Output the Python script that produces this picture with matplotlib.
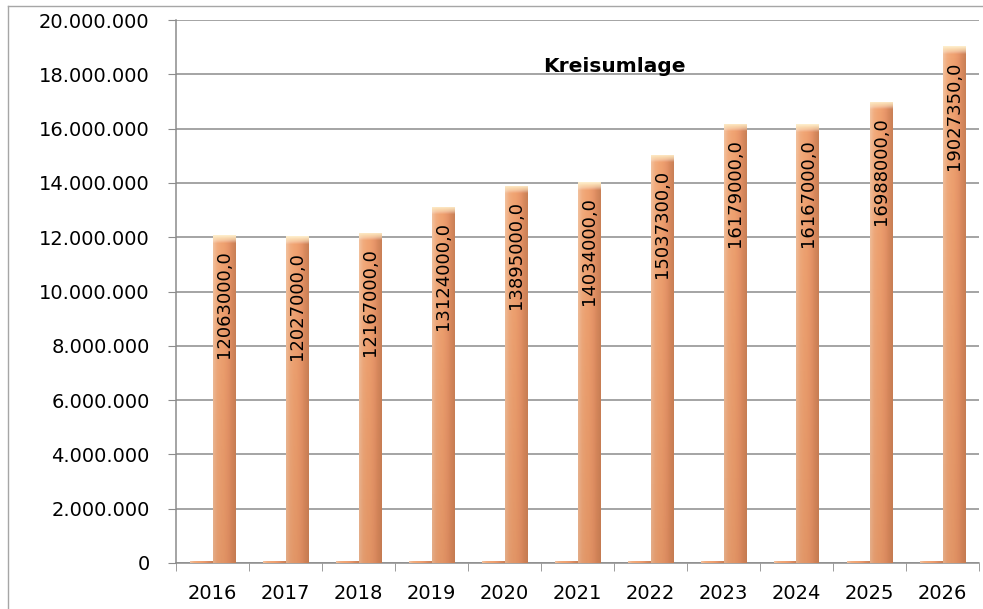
import numpy as np
import matplotlib.pyplot as plt
from matplotlib.lines import Line2D
from matplotlib.colors import LinearSegmentedColormap

years = ['2016', '2017', '2018', '2019', '2020', '2021', '2022', '2023', '2024', '2025', '2026']
umlage = [12063000, 12027000, 12167000, 13124000, 13895000, 14034000,
          15037300, 16179000, 16167000, 16988000, 19027350]
# second (almost invisible) series next to each bar
stub = [90000, 90000, 90000, 90000, 90000, 90000, 90000, 90000, 90000, 90000, 90000]
yticks = [0, 2000000, 4000000, 6000000, 8000000, 10000000, 12000000,
          14000000, 16000000, 18000000, 20000000]

plt.rcParams['font.family'] = ['DejaVu Sans']

fig = plt.figure(figsize=(9.83, 6.09), dpi=100)
ax = fig.add_axes([176/983, 46/609, 803/983, 543/609])

# horizontal shading of a cylinder-like bar: light left edge, darker right side
shade = LinearSegmentedColormap.from_list(
    'shade', ['#f3c3a0', '#f2ad80', '#f1a675', '#efa170', '#e8966a', '#d98a5e', '#c98057'])
grad = np.linspace(0, 1, 64).reshape(1, -1)
# slight darkening towards the bottom
dark = LinearSegmentedColormap.from_list(
    'dark', [(0.72, 0.42, 0.26, 0.25), (0.72, 0.42, 0.26, 0.0)])
darkgrad = np.linspace(0, 1, 64).reshape(-1, 1)
cap = LinearSegmentedColormap.from_list(
    'cap', [(1, 1, 1, 0), (0.99, 0.90, 0.74, 0.7), (1.0, 0.95, 0.82, 1.0)])
capgrad = np.linspace(0, 1, 32).reshape(-1, 1)

x = np.arange(len(years))
w = 0.31


def draw_bars(xpos, vals, with_cap):
    bars = ax.bar(xpos, vals, width=w, color='#eda070', zorder=3)
    for b in bars:
        x0, x1 = b.get_x(), b.get_x() + b.get_width()
        h = b.get_height()
        im = ax.imshow(grad, cmap=shade, extent=(x0, x1, 0, h), aspect='auto', zorder=3.1,
                       interpolation='bicubic')
        im.set_clip_path(b)
        if with_cap:
            d = ax.imshow(darkgrad, cmap=dark, extent=(x0, x1, 0, h), aspect='auto',
                          origin='lower', zorder=3.15, interpolation='bicubic')
            d.set_clip_path(b)
            c = ax.imshow(capgrad, cmap=cap, extent=(x0, x1, h - 280000, h), aspect='auto',
                          origin='lower', zorder=3.2, interpolation='bicubic')
            c.set_clip_path(b)
    return bars


draw_bars(x - 0.155, stub, False)
main = draw_bars(x + 0.155, umlage, True)

for xi, v in zip(x + 0.155, umlage):
    ax.text(xi, v - 560000, f'{v},0', rotation=90, ha='center', va='top',
            fontsize=13, color='black', zorder=5)

ax.set_xlim(-0.5, len(years) - 0.5)
ax.set_ylim(0, 20000000)
ax.set_yticks(yticks)
ax.set_yticklabels([f'{t:,}'.replace(',', '.') for t in yticks], fontsize=14)
ax.set_xticks(x)
ax.set_xticklabels(years, fontsize=14)
ax.set_xticks(np.arange(len(years) + 1) - 0.5, minor=True)
ax.tick_params(axis='x', which='major', length=0, pad=15)
ax.tick_params(axis='x', which='minor', length=6, color='#8c8c8c')
ax.tick_params(axis='y', length=6, color='#8c8c8c', pad=13)

ax.grid(axis='y', color='#8c8c8c', linewidth=1.1, zorder=0)
ax.set_axisbelow(True)
for s in ['top', 'right']:
    ax.spines[s].set_visible(False)
for s in ['left', 'bottom']:
    ax.spines[s].set_color('#8c8c8c')
    ax.spines[s].set_linewidth(1.1)

fig.text(614/983, 1 - 67/609, 'Kreisumlage', ha='center', va='center',
         fontsize=14.5, fontweight='bold')

# chart area frame (only left and top visible in the crop)
fig.add_artist(Line2D([8/983, 8/983], [0, 1 - 6/609], transform=fig.transFigure,
                      color='#a6a6a6', linewidth=1))
fig.add_artist(Line2D([8/983, 1], [1 - 6/609, 1 - 6/609], transform=fig.transFigure,
                      color='#a6a6a6', linewidth=1))

fig.savefig('out.png', dpi=100)
